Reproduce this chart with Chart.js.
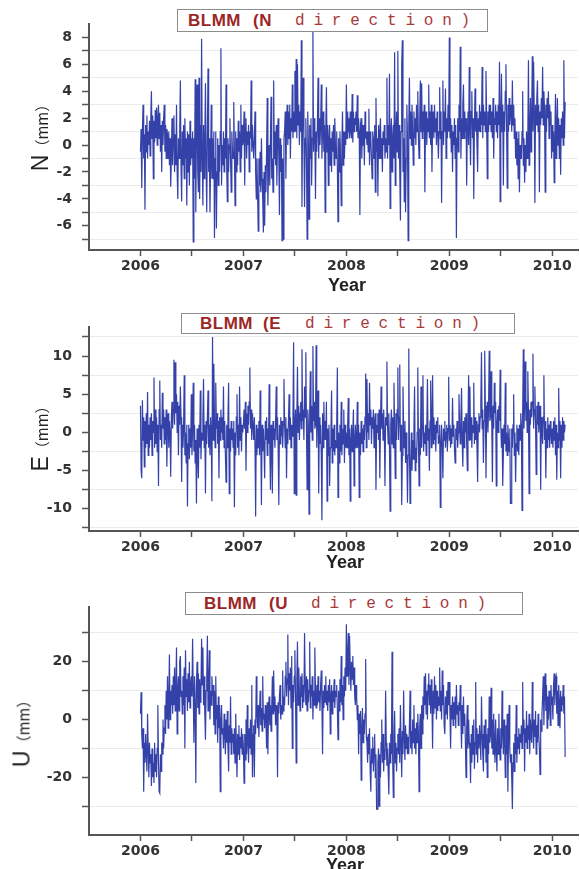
<!DOCTYPE html>
<html>
<head>
<meta charset="utf-8">
<script src="https://cdn.jsdelivr.net/npm/chart.js@4.4.0/dist/chart.umd.min.js"></script>
<style>
  body { margin: 0; background: #fff; }
  #page { position: relative; width: 580px; height: 869px; overflow: hidden; font-family: "Liberation Sans", Arial, sans-serif; }
  .panel { position: absolute; left: 0; width: 580px; }
  .panel canvas { position: absolute; left: 0; top: 0; }
  .box { position: absolute; border: 1px solid #8c8c8c; background: #fff; box-sizing: border-box; color: #9c2626; white-space: nowrap; }
  .box span { position: absolute; top: 50%; transform: translateY(-52%); }
  .box .sans { font-weight: bold; font-size: 17px; letter-spacing: 0.5px; }
  .box .mono { font-family: "Liberation Mono", monospace; font-size: 16px; letter-spacing: 8.8px; color: #a83a3a; }
  .ylab { position: absolute; transform: translate(-50%, -50%) rotate(-90deg); white-space: nowrap; color: #222; }
  .ylab .big { font-size: 23px; }
  .ylab .small { font-family: "Noto Sans CJK SC", sans-serif; font-size: 15px; }
  .xlab { position: absolute; transform: translate(-50%, -50%); font-weight: bold; font-size: 18px; color: #222; }
</style>
</head>
<body>
<div id="page">
  <div class="panel" style="top:0;height:290px"><canvas id="chartN" width="580" height="290"></canvas></div>
  <div class="panel" style="top:290px;height:290px"><canvas id="chartE" width="580" height="290"></canvas></div>
  <div class="panel" style="top:580px;height:289px"><canvas id="chartU" width="580" height="289"></canvas></div>

  <div class="box" style="left:177px;top:9px;width:311px;height:23px">
    <span class="sans" style="left:10px">BLMM</span><span class="sans" style="left:75px">(N</span><span class="mono" style="left:117px">direction)</span>
  </div>
  <div class="box" style="left:181px;top:313px;width:334px;height:21px">
    <span class="sans" style="left:18px">BLMM</span><span class="sans" style="left:81px">(E</span><span class="mono" style="left:123px">direction)</span>
  </div>
  <div class="box" style="left:185px;top:592px;width:338px;height:23px">
    <span class="sans" style="left:18px">BLMM</span><span class="sans" style="left:83px">(U</span><span class="mono" style="left:125px">direction)</span>
  </div>

  <div class="ylab" style="left:40px;top:134px"><span class="big">N</span><span class="small">（mm）</span></div>
  <div class="ylab" style="left:40px;top:435px"><span class="big">E</span><span class="small">（mm）</span></div>
  <div class="ylab" style="left:22px;top:730px"><span class="big">U</span><span class="small">（mm）</span></div>

  <div class="xlab" style="left:347px;top:285px">Year</div>
  <div class="xlab" style="left:345px;top:562px">Year</div>
  <div class="xlab" style="left:345px;top:865px">Year</div>
</div>

<script>
// sampling of the series: one value every 0.00625 yr starting at 2006.0
const epochStart = 2006.0;
const epochStep = 0.00625;

const yearTicks = [2006, 2006.5, 2007, 2007.5, 2008, 2008.5, 2009, 2009.5, 2010];

const nTicks = [-7, -6, -5, -4, -3, -2, -1, 0, 1, 2, 3, 4, 5, 6, 7, 8];
const eTicks = [-12.5, -10, -7.5, -5, -2.5, 0, 2.5, 5, 7.5, 10, 12.5];
const uTicks = [-30, -20, -10, 0, 10, 20, 30];

// N direction (mm)
const nValues = [
  -0.5, 1.2, -3.2, 1.0, 3.0, -1.0, 0.8, -4.8, 1.5, -0.5, 2.2, -1.0, 1.0, 0.0, 1.8, -0.8,
  2.0, 4.0, 0.5, 2.2, -2.5, 1.8, 0.2, 2.6, 0.5, 2.8, 0.0, 2.0, 3.0, 0.5, 2.4, -0.5,
  1.5, -2.0, 1.8, 0.0, 2.0, 3.0, -0.5, 1.5, -1.0, 1.2, 0.8, -1.0, 1.0, -1.5, 0.5, -3.1,
  -1.0, 2.0, -1.5, 0.5, 2.2, -2.0, 0.8, -1.5, 3.0, -2.0, -4.0, 0.5, -1.0, 1.0, 4.8, -1.5,
  -4.2, 1.0, -1.5, 1.5, -2.5, 2.0, -1.0, 0.5, -4.5, 1.0, -2.0, 0.8, -3.0, 1.8, -1.5, 0.5,
  -1.0, 1.0, -7.2, 0.5, -2.5, 4.9, -5.0, 1.0, 4.5, -2.0, -3.5, 5.0, -4.0, 1.5, -2.0, 7.9,
  -1.0, -4.5, 1.5, -2.5, 0.5, 4.6, -1.5, -5.0, 1.0, 5.7, -2.0, 0.5, -5.0, -1.5, 3.0, -2.5,
  0.5, -2.5, 1.0, -6.9, -1.0, 1.0, -6.2, -2.0, 0.5, -3.0, 0.0, -2.0, 1.0, 7.2, -3.0, 0.0,
  -1.5, 1.0, -2.0, 0.5, -1.0, 4.5, -1.5, -4.2, 0.5, -2.0, 0.0, 2.0, -1.0, -3.5, 1.0, -0.5,
  -1.0, 3.2, -0.5, -4.5, 1.0, -2.0, 0.5, -1.5, 1.8, -0.5, 1.0, -2.0, 3.0, -1.0, 1.5, 0.0,
  0.5, 2.5, -3.0, 1.5, 2.0, -1.0, 1.0, 0.0, 1.5, -2.0, 1.0, 0.5, 4.8, -0.5, 1.5, 0.0,
  -1.0, 0.5, 2.5, -2.0, -4.0, -1.0, -3.5, -6.4, -1.0, -3.0, -0.5, -3.5, 0.5, -2.5, -4.0, -6.5,
  -2.0, -6.0, -1.5, -3.5, -0.5, 3.5, -4.5, -2.0, 0.0, -3.0, 0.5, 3.6, -2.5, -1.0, -3.5, 4.8,
  -1.0, 1.0, -1.5, 1.5, -3.0, 0.5, 2.0, -1.0, -5.2, 0.5, -2.0, 0.0, -7.1, -1.0, -7.0, 0.5,
  1.0, 2.5, -2.5, 1.5, 3.0, 0.0, 2.5, 0.5, 3.0, -1.0, 2.0, 1.0, 4.5, 0.5, 2.5, 1.0,
  5.5, 1.0, 6.4, 0.5, 6.0, 1.5, 3.0, 0.0, 2.5, 1.0, 7.8, -4.6, 2.0, 5.0, 0.5, -4.6,
  0.5, 2.0, -1.0, -7.0, 2.5, 0.0, -5.5, 1.5, -1.0, 2.0, -3.0, 0.5, 8.5, -0.5, 2.0, 1.0,
  -4.0, 1.0, -0.5, 1.5, 5.0, -1.0, 2.0, 0.0, 1.5, 4.5, -1.0, 1.0, 2.5, -0.5, 1.5, -5.0,
  1.0, 4.3, -0.5, 1.5, -3.0, 0.5, 1.5, -1.5, 0.5, -2.0, 1.0, -0.5, 1.5, -1.5, 2.0, 0.0,
  -1.0, 1.0, -1.5, -5.7, 0.5, -2.0, 1.0, -1.0, -4.5, 0.0, 2.5, -1.5, 1.0, -1.0, 1.0, 0.0,
  4.5, 0.5, 2.5, 1.0, 2.0, 0.5, 2.5, 1.0, 0.5, 3.8, 0.2, 2.5, 1.0, 2.0, 1.5, 2.5,
  1.0, 3.7, 0.5, 2.0, 1.0, -5.2, 1.5, 2.0, -1.0, 1.5, 0.0, 1.5, -1.5, 2.5, 0.5, 1.0,
  0.0, 1.0, -0.5, 2.7, -1.5, 1.0, 0.5, -1.0, -2.5, 1.0, 0.5, -1.0, 1.5, -3.5, 3.5, -0.5,
  0.5, -3.8, 1.5, -1.0, 1.0, 2.0, -1.0, 0.5, -2.0, 1.0, 0.0, 1.5, -1.0, 0.5, -0.5, 5.0,
  -1.0, 1.5, 0.0, 5.3, -4.7, 1.0, 2.0, -2.0, 0.5, 1.5, -1.0, 6.9, -3.0, 1.0, 2.5, -0.5,
  7.0, -1.0, 1.5, -2.0, -5.6, 1.0, 6.0, 7.8, -2.0, 0.5, -4.2, 2.0, -5.0, -1.0, 3.0, 0.5,
  -7.1, 1.5, 5.0, 0.5, 2.5, 0.0, 3.0, 1.0, -1.5, 2.5, 0.5, 2.0, 0.0, 3.0, 1.0, 4.0,
  0.5, -1.0, 2.0, 4.8, 1.0, 4.6, 0.5, 2.5, 1.0, 3.0, -3.5, 1.5, 2.5, 0.0, 2.0, 1.0,
  4.5, 0.5, 2.5, 0.0, 3.0, -2.0, 1.5, 2.5, 0.5, 3.0, 1.0, 2.0, 0.0, 2.5, 1.0, -1.0,
  1.0, 4.3, 0.5, 2.5, -4.3, 1.0, 4.8, 0.0, 2.5, 1.0, 4.2, -1.0, 2.0, 0.5, 3.0, 1.0,
  8.0, 0.5, 2.0, -0.5, 1.5, -2.0, 1.0, 0.0, 2.0, -1.0, 1.5, -6.9, 0.5, 2.0, -0.5, 3.0,
  1.0, 7.3, -1.0, 2.0, 0.5, 3.0, 4.5, 0.5, 2.5, 1.0, 2.0, -3.0, 1.5, 2.5, 0.0, 5.8,
  1.0, -1.5, 2.5, 4.0, 0.5, 2.0, -4.0, 1.5, 4.2, 1.0, 2.5, 0.0, -2.0, 2.0, 1.0, 3.0,
  1.0, 2.5, 1.5, 5.8, 0.5, 3.0, 1.5, 2.5, 1.0, 5.5, 2.0, -2.5, 2.5, 1.0, 3.0, 1.5,
  3.0, 1.0, 2.5, 0.5, 3.5, -1.0, 2.0, 1.5, 3.0, 1.0, 2.5, 0.5, 3.0, 1.5, 6.2, -4.2,
  2.0, 5.3, 1.0, 3.0, -3.0, 2.5, 1.0, 4.0, 6.0, 1.5, -3.2, 3.0, 1.0, 3.5, 1.5, 2.5,
  3.0, 1.0, 4.8, 1.5, 3.0, 0.5, 2.0, -1.0, 1.0, -1.5, 0.5, -2.5, 1.0, -3.5, 0.0, -1.0,
  -1.0, 1.0, 4.0, -1.5, 0.5, -2.8, 0.0, -2.0, 1.0, -1.0, 0.5, 6.3, -1.5, 1.0, 3.5, -0.5,
  2.0, 6.6, 1.0, 6.2, 2.5, -4.3, 3.0, 1.5, 3.5, 4.8, 1.0, 3.0, -3.5, 2.5, 1.5, 3.5,
  2.0, 5.8, 1.5, 4.0, 2.5, -3.5, 3.0, 1.0, 3.5, 2.0, 4.0, 0.5, 3.0, 1.5, 2.5, -1.0,
  1.5, -0.5, 1.0, -2.8, 0.5, 3.8, -1.0, 1.5, 3.5, 0.0, 2.0, -1.0, 1.5, -2.2, 2.0, 0.5,
  2.5, 0.0, 6.3, 0.5, 3.2
];

// E direction (mm)
const eValues = [
  3.5, -5.0, -6.0, 4.2, -1.0, 2.0, -4.5, 1.5, -2.0, 2.5, -1.5, 5.3, -3.0, 1.0, -2.0, 2.0,
  -1.0, 2.5, -3.0, 1.5, 0.0, 7.2, -2.0, 3.0, -1.5, 2.0, -2.5, 1.0, -7.0, 3.0, 6.8, -1.0,
  1.0, -2.0, 5.2, 0.5, 3.0, -1.5, 2.0, -1.0, 3.0, -4.5, 1.0, 2.5, -2.0, 1.5, 0.0, -5.8,
  2.0, 4.0, 0.5, 3.0, 9.5, 1.0, 9.2, 2.5, 5.0, 0.0, 4.0, -3.0, 3.5, 1.0, 6.0, 2.0,
  -6.5, 1.0, -2.0, 0.5, 7.5, -3.0, 0.0, -4.0, 1.0, -9.7, -1.5, 1.0, -3.5, 0.5, -2.0, 5.0,
  -3.0, 0.5, 6.5, -2.5, 1.0, -4.0, -1.0, -9.3, 0.5, -3.0, -6.0, 1.0, -2.0, 5.5, -3.5, 0.0,
  -1.0, 2.0, 7.0, -2.0, 1.0, -8.0, 1.5, -1.5, 2.0, 5.5, -2.0, 1.0, -3.0, 2.0, 0.0, -9.0,
  12.5, -1.0, 9.0, 2.0, -2.0, 6.5, 0.5, 2.5, -1.5, 1.5, -6.0, 2.0, -1.0, 3.0, 0.0, 2.0,
  -1.0, 6.0, -2.0, 1.5, -3.0, -6.5, 1.0, -2.0, 2.0, 6.5, -8.0, 0.5, -2.5, 1.5, -1.0, 0.5,
  -2.0, 1.5, -9.8, 0.0, -3.0, 2.0, 5.0, -2.0, 1.0, -3.0, 6.0, -1.0, 2.0, -2.5, 1.0, 0.0,
  1.0, 3.0, 0.5, 4.0, -5.0, 2.5, 0.0, 3.5, 1.0, 4.0, 8.5, 0.5, 3.0, -1.0, 2.5, 1.0,
  -1.0, 2.0, -2.0, -11.0, 1.0, -3.0, 0.5, -2.0, 1.5, -3.0, 5.5, -1.0, -9.5, 1.0, -2.5, 0.5,
  -2.0, -6.0, 1.5, -1.0, 2.0, -3.0, 0.5, -1.5, 6.3, -2.0, -7.5, 1.0, -2.0, -8.0, 1.5, -1.0,
  0.5, -2.0, 1.5, 6.0, -1.0, 2.0, -2.0, -9.5, 1.0, -1.5, 2.0, -0.5, 1.5, -2.0, 1.0, 7.0,
  1.0, -2.0, 2.0, -6.0, 0.5, -1.5, 1.5, 5.0, -1.0, 2.0, -2.0, 1.0, -0.5, 2.0, 11.8, -8.0,
  1.0, 3.0, -8.2, 2.0, 8.6, 0.0, 3.5, -1.0, 2.5, 4.0, 0.5, 10.9, 1.5, 3.0, -1.0, 6.0,
  2.0, 10.5, 0.5, -7.5, 3.0, 1.0, -10.7, 2.5, 8.0, 0.0, 3.5, -1.0, 11.3, 1.5, 4.0, 0.5,
  1.0, 11.4, -2.0, 3.0, 5.5, -8.0, 2.0, -1.5, 1.0, -3.0, -11.5, 2.5, -2.0, 4.0, -1.0, 1.5,
  -1.0, 4.0, -9.0, 0.5, -3.0, 1.0, -7.0, -2.0, 0.0, 5.5, -4.0, 0.5, -2.5, 1.0, -3.0, -1.0,
  -2.0, 1.0, 8.5, -8.5, 0.0, -4.0, 1.0, -2.5, 4.0, -3.0, 0.5, -1.5, 3.0, -4.0, 1.0, -2.0,
  0.0, -2.0, 1.0, 4.5, -3.0, 0.5, -9.0, -1.0, 1.0, -2.5, 0.0, 3.0, -7.0, -1.0, 1.0, -2.0,
  -1.0, 4.0, -2.0, 1.0, -8.5, 0.0, -3.0, 1.5, -1.5, 0.5, -2.5, 1.0, -1.0, 2.0, 7.7, -2.0,
  7.0, 0.0, 2.5, -1.0, 6.5, 1.0, 3.0, -1.5, 2.0, 0.5, 3.0, -2.0, 1.5, 2.5, -7.5, 1.0,
  0.0, 2.5, -1.0, 3.0, -6.0, 1.0, 6.0, 0.5, 2.5, -1.0, 3.0, 0.0, -7.0, 2.0, 1.0, 9.3,
  1.0, -1.5, 2.5, -2.0, -10.3, 1.0, 3.0, -1.5, 2.0, -2.0, 6.5, 0.5, -6.0, 2.5, -1.0, 3.0,
  8.5, -1.0, 2.0, 8.9, -2.5, 1.0, -9.5, -3.0, 6.0, 0.5, -2.0, 1.5, -4.0, 0.0, -3.0, -9.2,
  -3.0, 11.0, -2.0, -9.3, -4.5, 0.0, -5.0, -1.0, -3.5, 0.5, 6.0, -5.0, -2.0, -4.0, 0.0, 8.5,
  -1.0, -7.0, 0.5, -3.0, 6.0, -2.0, 1.0, 7.5, -2.5, 0.0, -1.5, 1.0, -3.0, 0.5, 7.0, -1.0,
  0.5, -5.0, 1.5, 6.8, -2.0, 1.0, 7.5, -1.5, 2.0, -1.0, 1.0, -2.5, 1.5, 0.0, 2.0, -1.5,
  -0.5, 1.0, -9.8, -1.5, 1.0, -2.0, -6.0, 0.5, -1.0, 1.5, -2.0, 0.0, 1.0, -2.5, 0.5, 7.3,
  -1.0, 1.0, -2.0, 0.5, -1.5, 4.5, -0.5, 1.0, -2.0, -4.0, 0.5, -1.0, 1.5, -2.0, 0.0, 5.0,
  1.0, -1.5, 2.0, 5.8, -1.0, -4.5, 1.5, -2.0, 2.0, 0.0, 2.5, -1.5, -5.0, 1.0, 7.5, -1.0,
  6.0, -1.0, 2.0, -2.0, 1.0, 0.0, 6.5, -1.5, 2.0, -1.0, 1.5, -2.0, -6.5, 1.0, 2.5, 0.0,
  2.0, 4.0, 10.5, 0.5, 3.0, -4.0, 1.5, 10.7, 3.5, -6.0, 2.0, 4.0, 0.0, 3.0, 10.7, 1.5,
  2.0, 8.0, 1.0, -6.5, 3.5, 0.5, 6.5, 2.5, 4.0, -7.0, 1.0, 3.0, 0.0, 3.5, 1.5, 8.2,
  1.0, -2.0, 0.5, -7.0, -3.0, 1.0, -1.5, 6.5, -2.5, 0.0, -3.0, 1.0, -1.0, -2.5, 0.5, -9.3,
  -9.3, 0.5, -2.0, 1.0, 5.0, -3.0, 0.0, -6.5, -1.5, 1.0, -2.5, 0.5, -3.0, 1.0, -1.0, 2.5,
  1.0, -10.2, 2.5, 10.9, 0.5, 3.5, 9.3, 1.5, 4.0, 0.0, 8.0, 2.5, -8.0, 3.0, 1.0, 4.0,
  2.0, 4.0, 10.3, 0.5, 3.0, 6.0, 1.5, -5.5, 3.5, 1.0, 4.0, 0.0, 2.5, 3.5, -7.5, 2.0,
  1.0, -1.5, 2.0, 7.5, -1.0, 1.5, -6.0, 0.5, -2.0, 2.0, -1.0, 1.0, -2.0, 1.5, 0.0, -1.5,
  0.5, -2.0, 1.5, -1.0, 2.0, -3.0, 1.0, -6.2, 0.0, -2.0, 5.8, -1.0, 1.5, -6.0, 1.0, -2.0,
  2.0, -1.0, 1.5, 0.0, 1.0
];

// U direction (mm)
const uValues = [
  2.0, 9.5, -5.0, -10.0, -3.0, -25.0, -8.0, -15.0, -5.0, -12.0, -18.0, 2.0, -10.0, -20.0, -8.0, -15.0,
  -12.0, -23.0, -10.0, -20.0, -15.0, -22.0, -8.0, -18.0, -12.0, -20.0, -10.0, 5.0, -15.0, -25.0, -25.5, -12.0,
  -18.0, -8.0, -12.0, 0.0, -10.0, -3.0, 5.0, -5.0, 10.0, 0.0, 15.0, -3.0, 8.0, 22.5, 0.0, 10.0,
  5.0, 12.0, 2.0, 15.0, 5.0, 18.0, 3.0, 12.0, 25.0, -5.0, 10.0, 15.0, 3.0, 20.0, 22.0, 8.0,
  10.0, 2.0, 15.0, 5.0, 18.0, -10.0, 24.0, 8.0, 14.0, 3.0, 16.0, 6.0, 20.0, 4.0, 12.0, 15.0,
  8.0, 28.0, 10.0, -8.0, 15.0, 5.0, -22.0, 12.0, 20.0, 4.0, 16.0, 2.0, 14.0, 6.0, 10.0, 28.0,
  12.0, 25.0, 5.0, 15.0, 2.0, -7.0, 10.0, 14.0, 29.0, 3.0, 12.0, 24.0, 0.0, 10.0, 5.0, 15.0,
  8.0, 12.0, -2.0, 10.0, -5.0, 15.0, 0.0, 5.0, -8.0, 8.0, -3.0, 5.0, -25.0, 0.0, 5.0, -5.0,
  -3.0, -10.0, 2.0, -5.0, -12.0, 0.0, -8.0, 3.0, -10.0, -18.0, -2.0, -8.0, 8.0, -12.0, -3.0, -8.0,
  -5.0, -12.0, -3.0, -15.0, 2.0, -8.0, -20.0, -5.0, -12.0, -2.0, -14.0, -6.0, -10.0, -3.0, -12.0, -5.0,
  -10.0, -22.0, -5.0, -14.0, 0.0, -12.0, 5.0, -8.0, -15.0, -3.0, -10.0, 0.0, -12.0, 12.0, -20.0, -5.0,
  -2.0, -20.0, 0.0, -5.0, 15.0, 2.0, -3.0, 5.0, -6.0, 3.0, 10.0, -2.0, 4.0, -4.0, 15.0, 0.0,
  2.0, -3.0, 5.0, 0.0, -10.0, 6.0, -12.0, 3.0, 8.0, -2.0, 5.0, -4.0, 4.0, 15.0, 2.0, 17.0,
  3.0, 8.0, -2.0, 5.0, 0.0, -20.0, 6.0, 2.0, 8.0, 12.0, 0.0, 5.0, 2.0, 17.0, 3.0, 8.0,
  5.0, 15.0, 20.0, 8.0, 14.0, 29.5, 5.0, 16.0, 10.0, 18.0, 4.0, 22.0, -10.0, 12.0, 6.0, 15.0,
  24.0, 8.0, -15.0, 14.0, 27.0, 5.0, 18.0, 10.0, 3.0, 15.0, 8.0, 16.0, 4.0, 12.0, 6.0, 30.0,
  12.0, 5.0, 15.0, 3.0, 14.0, 6.0, 10.0, 27.0, 4.0, 12.0, 8.0, 15.0, 0.0, 10.0, 5.0, 25.0,
  10.0, 4.0, 12.0, 5.0, 15.0, 6.0, 10.0, 3.0, 12.0, 17.0, 5.0, -12.0, 10.0, 4.0, 12.0, 6.0,
  15.0, 5.0, 10.0, 3.0, 12.0, 6.0, 14.0, -5.0, 8.0, 12.0, 2.0, 10.0, 6.0, 14.0, 4.0, 10.0,
  8.0, 12.0, 4.0, -7.0, 10.0, 3.0, 14.0, 6.0, 22.0, 5.0, 12.0, 0.0, 15.0, 8.0, 18.0, 10.0,
  33.0, 15.0, 22.0, 30.0, 12.0, 29.0, 18.0, 10.0, 20.0, 14.0, 22.0, 12.0, 18.0, 8.0, 5.0, 12.0,
  8.0, 0.0, 5.0, -12.0, 2.0, -5.0, 3.0, -21.0, -3.0, 4.0, -8.0, 0.0, -5.0, 2.0, 21.0, -6.0,
  -8.0, -15.0, -5.0, -12.0, -3.0, -18.0, -25.0, -10.0, -15.0, -6.0, -18.0, -10.0, -5.0, -20.0, -12.0, -31.0,
  -31.0, -15.0, -10.0, -30.0, -12.0, -20.0, -8.0, 0.0, -15.0, -5.0, -18.0, -10.0, -14.0, 10.0, -8.0, -16.0,
  -10.0, -18.0, -26.0, -8.0, -15.0, -5.0, -12.0, 23.5, -14.0, -27.0, -6.0, 3.0, -15.0, -8.0, -18.0, -10.0,
  -5.0, -12.0, -3.0, -15.0, 5.0, -8.0, -20.0, -4.0, -12.0, 10.0, -6.0, -14.0, -2.0, -10.0, -5.0, -12.0,
  -6.0, -12.0, -2.0, 10.0, -10.0, -4.0, -12.0, 0.0, -8.0, 5.0, -10.0, -3.0, -12.0, -1.0, -8.0, 2.0,
  -5.0, -25.0, -2.0, 2.0, -10.0, 5.0, -5.0, 8.0, 0.0, 15.0, 5.0, 16.0, 2.0, 10.0, 0.0, 12.0,
  16.0, 5.0, 12.0, 2.0, 14.0, 6.0, -10.0, 10.0, 2.0, 15.0, 4.0, 12.0, 0.0, 10.0, 3.0, 8.0,
  5.0, 18.0, 3.0, 10.0, 0.0, 17.0, 5.0, 12.0, -2.0, -5.0, 8.0, 2.0, 10.0, 0.0, 13.0, 5.0,
  13.0, 2.0, -10.0, 5.0, 0.0, 8.0, -2.0, 6.0, 0.0, 8.0, -3.0, 12.0, 2.0, 5.0, -2.0, 6.0,
  3.0, 12.0, 0.0, -10.0, 5.0, -5.0, 8.0, -2.0, 2.0, -8.0, -20.0, -3.0, 5.0, -10.0, 0.0, -8.0,
  -10.0, -22.0, -5.0, -15.0, -2.0, -12.0, 0.0, -17.0, -8.0, 13.0, -12.0, -3.0, -15.0, -5.0, -10.0, -2.0,
  -8.0, -14.0, 8.0, -5.0, -12.0, -18.0, -2.0, -10.0, 0.0, -15.0, -5.0, -20.0, -3.0, -12.0, 8.0, -8.0,
  -5.0, 11.0, -10.0, 0.0, -12.0, 2.0, -8.0, -15.0, 0.0, -10.0, -18.0, -3.0, -12.0, 2.0, -8.0, -14.0,
  -3.0, -10.0, 10.0, -5.0, -12.0, 0.0, -8.0, -20.0, -2.0, -12.0, 2.0, -25.0, -6.0, 5.0, -10.0, -15.0,
  -12.0, -20.0, -31.0, -15.0, -8.0, -18.0, -5.0, -12.0, 5.0, -15.0, -6.0, -10.0, -3.0, -12.0, -5.0, -8.0,
  -2.0, -10.0, 13.0, -5.0, 0.0, -18.0, -3.0, -8.0, 3.0, -10.0, -2.0, -7.0, 2.0, -12.0, 0.0, -6.0,
  -8.0, 13.0, -3.0, -10.0, 0.0, -6.0, 3.0, -12.0, -2.0, -8.0, 2.0, -5.0, -10.0, -19.0, 0.0, -4.0,
  2.0, 8.0, 15.0, -2.0, 10.0, 16.0, 3.0, 12.0, -3.0, 8.0, 0.0, 10.0, 5.0, -2.0, 12.0, 5.0,
  8.0, 0.0, 12.0, 16.0, 5.0, 14.0, 15.0, 2.0, 10.0, -2.0, 12.0, 6.0, -3.0, 10.0, 3.0, 8.0,
  5.0, 12.0, 2.0, 8.0, -13.0
];

const tickFont = { family: "'DejaVu Sans', sans-serif", size: 14, weight: 'bold' };

function makePanel(id, values, yMin, yMax, yTicks, labelEvery, area) {
  const pts = values.map((v, i) => ({ x: epochStart + i * epochStep, y: v }));
  return new Chart(document.getElementById(id), {
    type: 'line',
    data: {
      datasets: [{
        data: pts,
        borderColor: '#3441a9',
        borderWidth: 1.2,
        pointRadius: 0,
        tension: 0
      }]
    },
    options: {
      responsive: false,
      animation: false,
      layout: { padding: { top: area.top, right: 2, left: 0, bottom: 0 } },
      plugins: { legend: { display: false }, tooltip: { enabled: false } },
      scales: {
        x: {
          type: 'linear',
          min: 2005.5,
          max: 2010.25,
          afterBuildTicks: s => { s.ticks = yearTicks.map(v => ({ value: v })); },
          afterFit: s => { s.height = area.height - area.bottom; },
          grid: { drawOnChartArea: false, tickLength: 6, tickColor: '#555', tickWidth: 1.5 },
          border: { color: '#555', width: 2 },
          ticks: {
            autoSkip: false,
            maxRotation: 0,
            padding: 2,
            color: '#333',
            font: tickFont,
            callback: v => Number.isInteger(v) ? String(v) : ''
          }
        },
        y: {
          min: yMin,
          max: yMax,
          afterBuildTicks: s => { s.ticks = yTicks.map(v => ({ value: v })); },
          afterFit: s => { s.width = 89; },
          grid: {
            color: ctx => (ctx.tick && ctx.tick.value % labelEvery !== 0) ? '#ebebeb' : 'rgba(0,0,0,0)',
            tickColor: '#555',
            tickLength: 7,
            tickWidth: 1.5
          },
          border: { color: '#555', width: 2 },
          ticks: {
            autoSkip: false,
            padding: 10,
            color: '#333',
            font: tickFont,
            callback: v => v % labelEvery === 0 ? String(v) : ''
          }
        }
      }
    }
  });
}

makePanel('chartN', nValues, -7.8, 9, nTicks, 2, { top: 24, bottom: 250, height: 290 });
makePanel('chartE', eValues, -12.9, 13.8, eTicks, 5, { top: 37, bottom: 241, height: 290 });
makePanel('chartU', uValues, -40, 39, uTicks, 20, { top: 27, bottom: 255, height: 289 });
</script>
</body>
</html>
